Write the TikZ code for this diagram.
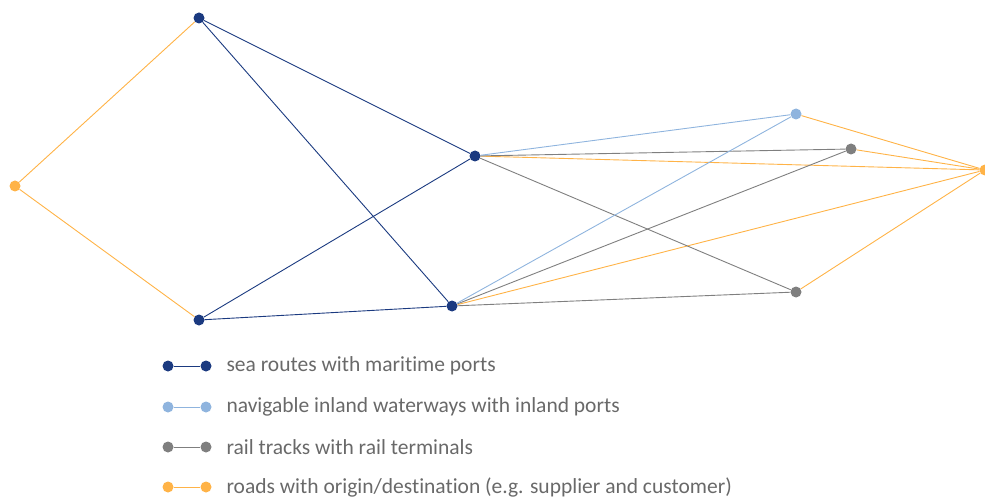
\documentclass[tikz,border=0pt]{standalone}
\usepackage{fontspec}
\setmainfont[Ligatures={NoCommon}]{Carlito}
\usepackage{xcolor}
\definecolor{seablue}{RGB}{27,58,128}
\definecolor{inlandblue}{RGB}{143,180,222}
\definecolor{railgray}{RGB}{127,127,127}
\definecolor{roadorange}{RGB}{255,179,71}
\definecolor{legendtext}{RGB}{105,105,105}
\tikzset{
    port/.style={circle, inner sep=0pt, minimum size=11pt, fill=#1},
    link/.style={line width=0.9pt, draw=#1},
    legendtext/.style={right, font=\fontsize{21.5}{24}\selectfont, text=legendtext}
}

\begin{document}
\begin{tikzpicture}[x=1pt, y=-1pt] % one unit is one pixel of the reference
        \useasboundingbox (0,0) rectangle (985,497);

        % Define Nodes
        \node[port=roadorange] (Origin) at (15,186) {};
        \node[port=seablue] (SeaTop) at (199,18) {};
        \node[port=seablue] (SeaBottom) at (199,320) {};
        \node[port=seablue] (SeaUpper) at (475,156) {};
        \node[port=seablue] (SeaLower) at (452,306) {};
        \node[port=inlandblue] (Inland) at (796,114) {};
        \node[port=railgray] (RailUpper) at (851,149) {};
        \node[port=railgray] (RailLower) at (796,292) {};
        \node[port=roadorange] (Destination) at (985,170) {};

        % Roads
        \foreach \a/\b in {Origin/SeaTop, Origin/SeaBottom, SeaUpper/Destination,
                SeaLower/Destination, Inland/Destination, RailUpper/Destination,
                RailLower/Destination} {
            \draw[link=roadorange] (\a) -- (\b);
        }
        % Rail tracks
        \foreach \a/\b in {SeaUpper/RailUpper, SeaUpper/RailLower,
                SeaLower/RailUpper, SeaLower/RailLower} {
            \draw[link=railgray] (\a) -- (\b);
        }
        % Inland waterways
        \foreach \a/\b in {SeaUpper/Inland, SeaLower/Inland} {
            \draw[link=inlandblue] (\a) -- (\b);
        }
        % Sea routes
        \foreach \a/\b in {SeaTop/SeaUpper, SeaTop/SeaLower,
                SeaBottom/SeaUpper, SeaBottom/SeaLower} {
            \draw[link=seablue] (\a) -- (\b);
        }

        % Legend
        \foreach \y/\c/\t in {366/seablue/{sea routes with maritime ports},
                407/inlandblue/{navigable inland waterways with inland ports},
                447/railgray/{rail tracks with rail terminals},
                487/roadorange/{roads with origin/destination (e.g. supplier and customer)}} {
            \node[port=\c] (KeyA\y) at (168,\y) {};
            \node[port=\c] (KeyB\y) at (206,\y) {};
            \draw[link=\c] (KeyA\y) -- (KeyB\y);
            \node[legendtext] (Key\y) at (223,\y) {\t};
        }

    \end{tikzpicture}
\end{document}
